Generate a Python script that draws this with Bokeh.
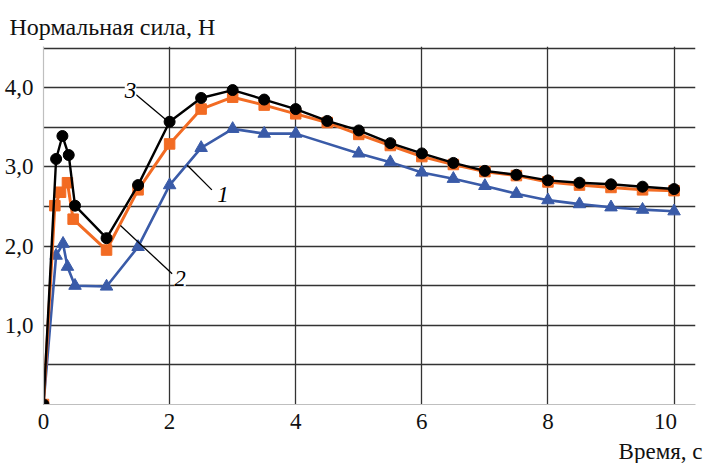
from bokeh.plotting import figure
from bokeh.models import FixedTicker, Label, Range1d, Title
from bokeh.embed import file_html
from bokeh.resources import INLINE

# Curve 3 (black circles)
t_black = [0, 0.2, 0.3, 0.4, 0.5, 1.0, 1.5, 2.0, 2.5, 3.0, 3.5, 4.0, 4.5, 5.0,
           5.5, 6.0, 6.5, 7.0, 7.5, 8.0, 8.5, 9.0, 9.5, 10.0]
f_black = [0, 3.10, 3.39, 3.15, 2.51, 2.10, 2.77, 3.57, 3.87, 3.97, 3.85, 3.73,
           3.58, 3.46, 3.30, 3.17, 3.05, 2.95, 2.90, 2.83, 2.80, 2.78, 2.75, 2.72]

# Curve 1 (orange squares)
t_orange = [0, 0.18, 0.27, 0.38, 0.47, 1.0, 1.5, 2.0, 2.5, 3.0, 3.5, 4.0, 4.5,
            5.0, 5.5, 6.0, 6.5, 7.0, 7.5, 8.0, 8.5, 9.0, 9.5, 10.0]
f_orange = [0, 2.51, 2.68, 2.80, 2.34, 1.95, 2.71, 3.29, 3.73, 3.88, 3.78, 3.67,
            3.56, 3.41, 3.27, 3.13, 3.03, 2.94, 2.89, 2.81, 2.77, 2.74, 2.71, 2.70]

# Curve 2 (blue triangles)
t_blue = [0, 0.2, 0.31, 0.38, 0.5, 1.0, 1.5, 2.0, 2.5, 3.0, 3.5, 4.0, 5.0, 5.5,
          6.0, 6.5, 7.0, 7.5, 8.0, 8.5, 9.0, 9.5, 10.0]
f_blue = [0, 1.88, 2.03, 1.74, 1.50, 1.49, 1.99, 2.77, 3.24, 3.48, 3.42, 3.42,
          3.17, 3.06, 2.93, 2.85, 2.76, 2.66, 2.58, 2.53, 2.49, 2.46, 2.44]

x_ticks = [0, 2, 4, 6, 8, 10]
x_tick_labels = {10: "10\u00a0\u00a0\u00a0"}
y_ticks = [1, 2, 3, 4]
y_tick_labels = {1: "1,0", 2: "2,0", 3: "3,0", 4: "4,0"}
y_grid = [0.5, 1.0, 1.5, 2.0, 2.5, 3.0, 3.5, 4.0, 4.5]
x_grid = [2, 4, 6, 8, 10]

y_title = "Нормальная сила, Н"
x_title = "Время, с"

# curve labels: text, text position, leader start, leader end
ann_text = ["3", "1", "2"]
ann_x = [1.38, 2.845, 2.165]
ann_y = [3.96, 2.65, 1.585]
lead_x0 = [1.47, 2.28, 1.22]
lead_y0 = [3.91, 3.02, 2.26]
lead_x1 = [1.98, 2.67, 2.04]
lead_y1 = [3.57, 2.71, 1.65]

SERIF = "Liberation Serif"
BLACK = "#000000"
ORANGE = "#F26B23"
BLUE = "#3A5BA8"
FS = "23px"

p = figure(width=704, height=463, output_backend="svg", toolbar_location=None,
           x_range=Range1d(0, 10.34), y_range=Range1d(0, 4.52),
           min_border_left=43, min_border_right=9, min_border_top=46,
           min_border_bottom=58)
p.outline_line_color = None
p.background_fill_color = "white"
p.border_fill_color = "white"

# y-axis title placed as a left-aligned title above the plot area
p.title.text = y_title
p.title.align = "left"
p.title.offset = -34
p.title.standoff = 13
p.title.text_font = SERIF
p.title.text_font_size = "24px"
p.title.text_font_style = "normal"
p.title.text_color = "#111111"

p.xgrid.ticker = FixedTicker(ticks=x_grid)
p.ygrid.ticker = FixedTicker(ticks=y_grid)
for g in (p.xgrid, p.ygrid):
    g.grid_line_color = "#333333"
    g.grid_line_width = 1.3

p.xaxis.ticker = FixedTicker(ticks=x_ticks)
p.xaxis.major_label_overrides = x_tick_labels
p.yaxis.ticker = FixedTicker(ticks=y_ticks)
p.yaxis.major_label_overrides = y_tick_labels
for ax in (p.xaxis[0], p.yaxis[0]):
    ax.axis_line_color = "#BFBFBF"
    ax.axis_line_width = 1.2
    ax.major_tick_line_color = None
    ax.minor_tick_line_color = None
    ax.major_tick_out = 0
    ax.major_tick_in = 0
    ax.minor_tick_out = 0
    ax.major_label_text_font = SERIF
    ax.major_label_text_font_size = FS
    ax.major_label_text_color = "#111111"
p.xaxis[0].major_label_standoff = 4
p.yaxis[0].major_label_standoff = 10

# x-axis title at the lower right
p.add_layout(Title(text=x_title, align="right", text_font=SERIF,
                   text_font_size=FS, text_font_style="normal", offset=-7,
                   text_color="#111111", standoff=0), "below")

# series
p.line(t_blue, f_blue, line_color=BLUE, line_width=2.6)
p.scatter(t_blue, f_blue, marker="triangle", size=12.5, fill_color=BLUE,
          line_color=BLUE)
p.line(t_orange, f_orange, line_color=ORANGE, line_width=3)
p.scatter(t_orange, f_orange, marker="square", size=10.5, fill_color=ORANGE,
          line_color=ORANGE)
p.line(t_black, f_black, line_color=BLACK, line_width=2.4)
p.scatter(t_black, f_black, marker="circle", size=11, fill_color=BLACK,
          line_color=BLACK)

# leader lines and curve numbers
p.segment(lead_x0, lead_y0, lead_x1, lead_y1, line_color="black", line_width=1.3)
for txt, x, y in zip(ann_text, ann_x, ann_y):
    p.add_layout(Label(x=x, y=y, text=txt, text_font=SERIF,
                       text_font_style="italic", text_font_size=FS,
                       text_align="center", text_baseline="middle",
                       background_fill_color="white", text_color="black"))

open("out.html", "w").write(file_html(p, INLINE))
